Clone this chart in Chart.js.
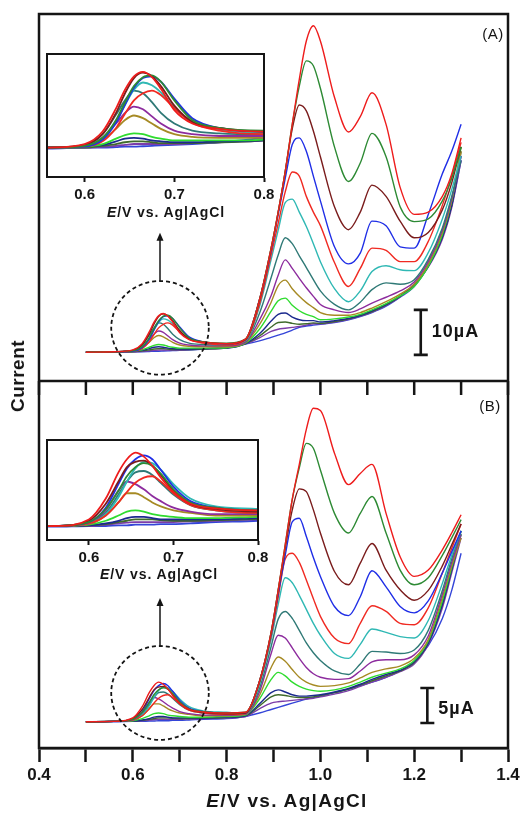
<!DOCTYPE html>
<html>
<head>
<meta charset="utf-8">
<script src="https://cdn.jsdelivr.net/npm/chart.js@4.4.1/dist/chart.umd.min.js"></script>
<style>
  html, body { margin: 0; padding: 0; background: #fff; }
  #figure { position: relative; width: 526px; height: 814px; overflow: hidden;
    font-family: "Liberation Sans", Arial, sans-serif; color: #151515; }
  #figure canvas { position: absolute; }
  .lbl { position: absolute; transform: translate(-50%, -50%); white-space: nowrap; }
  .axis-title { font-weight: bold; font-size: 19px; letter-spacing: 1.3px; }
  .inset-title { font-weight: bold; font-size: 14px; letter-spacing: 0.9px; }
  .panel-tag { font-size: 15px; letter-spacing: 0.5px; }
  #ylabel { font-weight: bold; font-size: 19px; letter-spacing: 0.5px;
    transform: translate(-50%, -50%) rotate(-90deg); }
</style>
</head>
<body>
<div id="figure">
  <canvas id="mainChart" width="526" height="814" style="left:0;top:0"></canvas>
  <canvas id="insetA" width="260" height="170" style="left:27px;top:44px"></canvas>
  <canvas id="insetB" width="250" height="150" style="left:27px;top:430px"></canvas>
  <div class="lbl panel-tag" style="left:493px;top:33px">(A)</div>
  <div class="lbl panel-tag" style="left:490px;top:405px">(B)</div>
  <div class="lbl" id="ylabel" style="left:18px;top:376px">Current</div>
  <div class="lbl axis-title" style="left:287px;top:801px"><i>E</i>/V vs. Ag|AgCl</div>
  <div class="lbl inset-title" style="left:166px;top:212px"><i>E</i>/V vs. Ag|AgCl</div>
  <div class="lbl inset-title" style="left:159px;top:574px"><i>E</i>/V vs. Ag|AgCl</div>
</div>

<script>
// potential grid (V) shared by every trace
const potential = [0.50, 0.56, 0.60, 0.62, 0.635, 0.645, 0.655, 0.665, 0.675, 0.685, 0.70, 0.72, 0.75, 0.80,
  0.84, 0.87, 0.895, 0.91, 0.925, 0.94, 0.955, 0.97, 0.985, 1.00, 1.03, 1.06, 1.085, 1.11, 1.14, 1.17, 1.20, 1.23, 1.26, 1.28, 1.30];

// panel A currents (uA), highest concentration first
const a01 = [6.4, 6.5, 6.9, 8.3, 10.9, 13.0, 14.5, 15.0, 14.4, 13.1, 10.7, 9.2, 8.6, 8.3, 9.3, 18, 29.5, 37.5, 46.5, 57, 67, 75.5, 78.9, 75.5, 63, 55.3, 58.7, 64, 57, 43, 37, 37.5, 41, 46, 54];
const a02 = [6.4, 6.5, 6.7, 7.6, 9.6, 11.6, 13.4, 14.4, 14.6, 13.9, 11.8, 9.6, 8.7, 8.4, 9.3, 18, 29.5, 37.5, 46.5, 57, 65.5, 71.1, 70, 65, 52, 44.3, 48.4, 55, 49.8, 38.7, 35.4, 36, 40, 45, 52];
const a03 = [6.4, 6.5, 6.8, 8.0, 10.4, 12.6, 14.3, 14.9, 14.5, 13.4, 11.2, 9.4, 8.7, 8.3, 9.2, 18, 29.5, 37.5, 46.5, 56, 61.3, 60, 55.5, 49.8, 38.7, 33.6, 37.5, 43.5, 41, 35.5, 31.8, 33, 38, 44, 52];
const a04 = [6.4, 6.5, 6.6, 7.4, 9.3, 11.3, 13.2, 14.3, 14.5, 13.9, 12.0, 9.8, 8.7, 8.3, 9.2, 18, 29, 37, 45, 52.5, 54, 51, 45.5, 40, 29.8, 26, 28.4, 35.5, 34.5, 29.8, 29.5, 37, 46, 51, 57];
const a05 = [6.4, 6.5, 6.6, 7.2, 8.7, 10.3, 11.8, 12.6, 12.9, 12.4, 10.9, 9.3, 8.4, 8.0, 9.0, 17, 28, 35, 42, 46.4, 45.5, 41, 37.5, 34.5, 26.3, 21, 25, 29.5, 29, 26.5, 26.5, 31, 39, 45.5, 53];
const a06 = [6.4, 6.5, 6.7, 7.6, 9.4, 11.3, 13.0, 13.8, 13.5, 12.7, 11.0, 9.4, 8.5, 8.2, 8.9, 16.5, 27, 33.5, 39.6, 40.4, 37.5, 34.3, 30.5, 26.5, 20.5, 17.6, 20.0, 24.3, 25.6, 24.7, 24.5, 28.5, 36, 42.5, 50];
const a07 = [6.4, 6.5, 6.8, 8.0, 10.2, 11.8, 12.9, 12.6, 11.6, 10.4, 9.2, 8.4, 8.1, 8.0, 8.8, 15, 23, 28, 31.8, 30.5, 27.8, 25.2, 22.5, 20.0, 17.0, 15.8, 17.5, 20.3, 21.8, 21.5, 22.5, 27, 34, 41, 49];
const a08 = [6.4, 6.5, 6.7, 7.6, 9.2, 10.4, 11.1, 10.8, 10.0, 9.2, 8.4, 8.0, 7.8, 7.8, 8.6, 13.5, 19, 23.5, 26.9, 25, 22.8, 20.7, 18.8, 17.0, 15.8, 15.2, 16.0, 17.3, 18.6, 20, 22, 26.5, 33.5, 40.5, 50];
const a09 = [6.4, 6.5, 6.7, 7.4, 8.6, 9.6, 10.1, 9.8, 9.2, 8.6, 8.0, 7.7, 7.6, 7.6, 8.5, 12.5, 17.5, 21.2, 22.4, 20.5, 18.8, 17.4, 16.3, 15.2, 14.6, 14.6, 15.2, 16.2, 17.6, 19.3, 21.5, 26, 33, 40, 51];
const a10 = [6.4, 6.5, 6.6, 6.9, 7.5, 7.9, 8.1, 8.0, 7.7, 7.5, 7.3, 7.3, 7.3, 7.4, 8.4, 11.5, 15.5, 17.8, 18.4, 16.8, 15.6, 14.8, 14.3, 13.6, 13.8, 14.2, 14.8, 15.8, 17.2, 18.9, 21, 25.5, 32.5, 40, 52];
const a11 = [6.4, 6.5, 6.6, 6.8, 7.2, 7.5, 7.6, 7.5, 7.3, 7.2, 7.1, 7.1, 7.2, 7.3, 8.3, 10.5, 13.3, 14.8, 15.1, 14.2, 13.6, 13.4, 13.4, 13.1, 13.4, 13.9, 14.6, 15.6, 17.0, 18.9, 21.2, 25.5, 32, 39, 50];
const a12 = [6.4, 6.5, 6.5, 6.7, 6.9, 7.1, 7.2, 7.2, 7.1, 7.0, 7.0, 7.0, 7.1, 7.3, 8.3, 10, 12, 13, 13.1, 12.8, 12.6, 12.7, 12.9, 12.8, 13.2, 13.8, 14.5, 15.4, 16.9, 18.8, 21.5, 25.5, 32, 39, 51];
const a13 = [6.4, 6.5, 6.5, 6.6, 6.7, 6.8, 6.9, 6.9, 6.9, 6.9, 6.9, 7.0, 7.1, 7.3, 8.2, 9.6, 11.0, 11.5, 11.7, 11.9, 12.1, 12.4, 12.7, 12.7, 13.1, 13.7, 14.4, 15.3, 16.8, 18.7, 21.5, 25.3, 31.5, 38.5, 49];
const a14 = [6.4, 6.4, 6.5, 6.5, 6.55, 6.6, 6.6, 6.65, 6.7, 6.75, 6.8, 6.9, 7.1, 7.6, 8.2, 8.9, 9.7, 10.2, 10.7, 11.3, 11.9, 12.2, 12.4, 12.6, 13.0, 13.6, 14.3, 15.2, 16.6, 18.6, 21.0, 25.5, 32, 39, 49];

// panel B currents (uA)
const b01 = [3.75, 3.8, 4.3, 5.9, 7.9, 8.9, 9.4, 9.1, 8.4, 7.5, 6.4, 5.5, 5.15, 5.0, 5.1, 9.5, 16.5, 22.5, 29, 35.5, 40.5, 45.5, 48.5, 48.2, 42.1, 37.6, 39.2, 40.5, 33.5, 27.3, 24.5, 25.4, 28.3, 30.7, 33.3];
const b02 = [3.75, 3.8, 4.1, 5.1, 6.5, 7.6, 8.3, 8.6, 8.4, 7.8, 6.6, 5.6, 5.2, 5.0, 5.1, 9.5, 16.5, 22.5, 29, 35.5, 40, 43.5, 42.8, 39.7, 33.5, 30.7, 33.5, 35.9, 30.7, 25.4, 23.3, 24.3, 27.5, 30, 32.6];
const b03 = [3.75, 3.8, 4.2, 5.5, 7.2, 8.3, 8.7, 8.8, 8.4, 7.7, 6.5, 5.5, 5.1, 4.9, 5.0, 9.5, 16.5, 22.5, 28.5, 34, 37, 36.6, 34, 30.7, 25.2, 23.3, 26.4, 29.2, 25.4, 22.6, 21.1, 22.5, 26, 29, 32];
const b04 = [3.75, 3.8, 4.1, 5.2, 7.0, 8.2, 8.9, 9.2, 8.9, 8.1, 6.8, 5.7, 5.2, 5.0, 5.0, 9.5, 16.3, 22, 27.5, 32.3, 32.8, 30.2, 27.2, 24.5, 20.2, 18.9, 21.6, 25.3, 23.0, 20.2, 19.3, 21, 25, 28, 31];
const b05 = [3.75, 3.8, 4.0, 4.6, 5.6, 6.4, 7.1, 7.5, 7.6, 7.2, 6.3, 5.4, 5.0, 4.8, 4.9, 9.3, 16, 21.5, 27, 27.8, 26.5, 24, 21.3, 18.8, 15.7, 14.9, 17.8, 20.3, 19.5, 17.8, 17.6, 20, 25, 28.5, 32];
const b06 = [3.75, 3.8, 4.0, 4.7, 6.0, 7.2, 8.2, 8.7, 8.6, 8.1, 7.0, 5.9, 5.3, 5.1, 4.9, 9, 15.5, 20.5, 24.3, 23.6, 21.8, 19.8, 17.8, 16.1, 13.5, 12.8, 14.8, 17.0, 16.5, 15.9, 15.7, 18.2, 23.5, 27.5, 31];
const b07 = [3.75, 3.8, 4.0, 4.8, 6.2, 7.2, 7.9, 8.0, 7.7, 7.1, 6.2, 5.4, 5.0, 4.8, 4.9, 8.5, 14.5, 18.4, 19.5, 18.5, 16.8, 15, 13.6, 12.5, 11, 10.5, 12, 13.8, 13.7, 13.5, 14, 16.8, 22.5, 27, 31];
const b08 = [3.75, 3.8, 4.0, 5.0, 6.5, 7.2, 7.0, 6.6, 6.1, 5.7, 5.2, 4.9, 4.7, 4.7, 4.8, 8, 13.5, 16.1, 15.7, 14.3, 12.8, 11.5, 10.6, 10.1, 9.8, 9.9, 11, 12.3, 12.6, 12.6, 13.3, 16, 22, 26.5, 30.5];
const b09 = [3.75, 3.8, 3.95, 4.6, 5.6, 6.3, 6.3, 6.0, 5.6, 5.3, 5.0, 4.8, 4.6, 4.6, 4.8, 7.5, 11.5, 13, 12.4, 11.2, 10.1, 9.4, 9, 8.8, 8.9, 9.3, 10, 10.8, 11.3, 11.7, 12.8, 15.5, 21.5, 26, 30];
const b10 = [3.75, 3.8, 3.9, 4.2, 4.6, 4.9, 5.0, 4.9, 4.7, 4.6, 4.5, 4.4, 4.4, 4.5, 4.7, 7, 9.8, 10.8, 10.3, 9.4, 8.8, 8.4, 8.2, 8.1, 8.3, 8.8, 9.4, 10.1, 10.7, 11.3, 12.5, 15.3, 21, 25.8, 30.5];
const b11 = [3.75, 3.8, 3.85, 4.0, 4.2, 4.4, 4.5, 4.5, 4.4, 4.3, 4.3, 4.3, 4.3, 4.4, 4.6, 6.3, 7.9, 8.3, 8.0, 7.6, 7.4, 7.4, 7.5, 7.6, 8.0, 8.5, 9.1, 9.8, 10.5, 11.1, 12.3, 15.0, 20.5, 25.5, 30.5];
const b12 = [3.75, 3.8, 3.85, 3.95, 4.1, 4.2, 4.3, 4.3, 4.3, 4.25, 4.2, 4.2, 4.25, 4.35, 4.6, 6.0, 7.3, 7.6, 7.5, 7.3, 7.2, 7.2, 7.3, 7.5, 7.9, 8.4, 9.0, 9.6, 10.3, 11.0, 12.2, 15.0, 20.5, 25.5, 31];
const b13 = [3.75, 3.8, 3.8, 3.9, 4.0, 4.05, 4.1, 4.1, 4.1, 4.1, 4.1, 4.15, 4.2, 4.3, 4.5, 5.6, 6.4, 6.6, 6.7, 6.8, 6.9, 7.0, 7.1, 7.3, 7.7, 8.2, 8.8, 9.4, 10.1, 10.9, 12.0, 14.8, 20, 25, 30];
const b14 = [3.75, 3.75, 3.8, 3.8, 3.85, 3.85, 3.9, 3.9, 3.9, 3.95, 3.95, 4.0, 4.1, 4.2, 4.5, 5.0, 5.5, 5.8, 6.1, 6.4, 6.7, 7.0, 7.2, 7.4, 7.9, 8.4, 8.9, 9.4, 10.1, 11.0, 12.3, 14.6, 18.5, 22.5, 27.8];

const traceColors = ["#ee1c1c", "#2d8a34", "#7a1c1c", "#1f2ee6", "#f02a22", "#2fb8b4", "#2f7976", "#8d2c9e",
  "#a68a24", "#2fdc2f", "#1c2a8e", "#3f6a2b", "#7c3ca8", "#3445d8"];

const mainTicks = [0.4, 0.5, 0.6, 0.7, 0.8, 0.9, 1.0, 1.1, 1.2, 1.3, 1.4];
const mainTickLabels = ["0.4", "", "0.6", "", "0.8", "", "1.0", "", "1.2", "", "1.4"];
const insetTicks = [0.6, 0.7, 0.8];
const insetTickLabels = ["0.6", "0.7", "0.8"];

const seriesA = [a01, a02, a03, a04, a05, a06, a07, a08, a09, a10, a11, a12, a13, a14];
const seriesB = [b01, b02, b03, b04, b05, b06, b07, b08, b09, b10, b11, b12, b13, b14];

// dashed circle around the small peak + arrow up to the inset (data units)
const zoomCircles = [
  { axis: "yA", e: 0.658, i: 11.8, de: 0.104, di: 10.4, arrowTo: 32.9 },
  { axis: "yB", e: 0.658, i: 7.86, de: 0.104, di: 6.7, arrowTo: 21.4 }
];
// current scale bars
const scaleBars = [
  { axis: "yA", e: 1.214, from: 5.8, size: 10, text: "10\u00b5A" },
  { axis: "yB", e: 1.228, from: 3.57, size: 5, text: "5\u00b5A", shift: 4 }
];

const ink = "#151515";
const family = "'Liberation Sans', Arial, sans-serif";

function toPoints(values) {
  return potential.map((e, i) => ({ x: e, y: values[i] }));
}

function traces(list, axisId, width) {
  return list.map((vals, k) => ({
    data: toPoints(vals),
    yAxisID: axisId,
    borderColor: traceColors[k],
    borderWidth: width,
    pointRadius: 0,
    fill: false,
    cubicInterpolationMode: "monotone"
  }));
}

const panelDecor = {
  id: "panelDecor",
  afterDraw(chart) {
    const { ctx, chartArea: a, scales } = chart;
    const x = scales.x;
    const mid = Math.min(scales.yA.bottom, scales.yB.bottom);
    ctx.save();
    ctx.strokeStyle = ink;
    ctx.fillStyle = ink;
    ctx.lineWidth = 2.5;
    ctx.strokeRect(a.left, a.top, a.right - a.left, a.bottom - a.top);

    /* divider between panels with its ticks */
    ctx.beginPath();
    ctx.moveTo(a.left, mid);
    ctx.lineTo(a.right, mid);
    x.ticks.forEach(t => {
      const px = x.getPixelForValue(t.value);
      ctx.moveTo(px, mid);
      ctx.lineTo(px, mid + 14);
    });
    ctx.stroke();

    /* dashed circles + arrows */
    ctx.lineWidth = 1.8;
    zoomCircles.forEach(c => {
      const sy = scales[c.axis];
      const cx = x.getPixelForValue(c.e);
      const cy = sy.getPixelForValue(c.i);
      const rx = x.getPixelForValue(c.e + c.de) - cx;
      const ry = cy - sy.getPixelForValue(c.i + c.di);
      ctx.setLineDash([4, 3]);
      ctx.beginPath();
      ctx.ellipse(cx, cy, rx, ry, 0, 0, Math.PI * 2);
      ctx.stroke();
      ctx.setLineDash([]);
      const tip = sy.getPixelForValue(c.arrowTo);
      ctx.lineWidth = 1.5;
      ctx.beginPath();
      ctx.moveTo(cx, cy - ry);
      ctx.lineTo(cx, tip + 5);
      ctx.stroke();
      ctx.beginPath();
      ctx.moveTo(cx, tip);
      ctx.lineTo(cx - 3.5, tip + 8);
      ctx.lineTo(cx + 3.5, tip + 8);
      ctx.closePath();
      ctx.fill();
      ctx.lineWidth = 1.8;
    });

    /* scale bars */
    scaleBars.forEach(b => {
      const sy = scales[b.axis];
      const bx = x.getPixelForValue(b.e);
      const y0 = sy.getPixelForValue(b.from);
      const y1 = sy.getPixelForValue(b.from + b.size);
      ctx.lineWidth = 2.6;
      ctx.beginPath();
      ctx.moveTo(bx, y0); ctx.lineTo(bx, y1);
      ctx.moveTo(bx - 7, y0); ctx.lineTo(bx + 7, y0);
      ctx.moveTo(bx - 7, y1); ctx.lineTo(bx + 7, y1);
      ctx.stroke();
      ctx.font = "bold 18px " + family;
      ctx.letterSpacing = "1px";
      ctx.textAlign = "left";
      ctx.textBaseline = "middle";
      ctx.fillText(b.text, bx + 11, (y0 + y1) / 2 + (b.shift || 0));
    });
    ctx.restore();
  }
};

new Chart(document.getElementById("mainChart"), {
  type: "line",
  data: { datasets: [...traces(seriesA, "yA", 1.4), ...traces(seriesB, "yB", 1.4)] },
  options: {
    responsive: false,
    animation: false,
    events: [],
    layout: { padding: { left: 39, right: 18, top: 14, bottom: 0 } },
    plugins: { legend: { display: false }, tooltip: { enabled: false } },
    scales: {
      x: {
        type: "linear", min: 0.4, max: 1.4,
        afterBuildTicks: s => { s.ticks = mainTicks.map(v => ({ value: v })); },
        afterFit: s => { s.height = 66; },
        grid: { drawOnChartArea: false, drawTicks: true, tickLength: 14, tickWidth: 2.5, tickColor: ink },
        border: { display: true, color: ink, width: 2.5 },
        ticks: {
          autoSkip: false, maxRotation: 0, padding: 3, color: ink,
          font: { family: family, size: 17, weight: "bold" },
          callback: (v, i) => mainTickLabels[i]
        }
      },
      // stacked panels: the box listed last ends up on top
      yB: { type: "linear", position: "left", stack: "panels", stackWeight: 1, min: 0, max: 52.4, display: false },
      yA: { type: "linear", position: "left", stack: "panels", stackWeight: 1, min: 0, max: 81.5, display: false }
    }
  },
  plugins: [panelDecor]
});

const insetFrame = {
  id: "insetFrame",
  beforeDatasetsDraw(chart) {
    const { ctx, chartArea: a } = chart;
    ctx.save();
    ctx.fillStyle = "#fff";
    ctx.fillRect(a.left, a.top, a.right - a.left, a.bottom - a.top);
    ctx.restore();
  },
  afterDraw(chart) {
    const { ctx, chartArea: a } = chart;
    ctx.save();
    ctx.strokeStyle = ink;
    ctx.lineWidth = 2;
    ctx.strokeRect(a.left, a.top, a.right - a.left, a.bottom - a.top);
    ctx.restore();
  }
};

function insetChart(id, series, xMin, yMin, yMax, pad, axisHeight) {
  return new Chart(document.getElementById(id), {
    type: "line",
    data: { datasets: traces(series, "y", 1.8) },
    options: {
      responsive: false,
      animation: false,
      events: [],
      layout: { padding: pad },
      plugins: { legend: { display: false }, tooltip: { enabled: false } },
      scales: {
        x: {
          type: "linear", min: xMin, max: 0.8,
          afterBuildTicks: s => { s.ticks = insetTicks.map(v => ({ value: v })); },
          afterFit: s => { s.height = axisHeight; },
          grid: { drawOnChartArea: false, drawTicks: true, tickLength: 5, tickWidth: 2, tickColor: ink },
          border: { display: true, color: ink, width: 2 },
          ticks: {
            autoSkip: false, maxRotation: 0, padding: 4, color: ink,
            font: { family: family, size: 15, weight: "bold" },
            callback: (v, i) => insetTickLabels[i]
          }
        },
        y: { type: "linear", min: yMin, max: yMax, display: false }
      }
    },
    plugins: [insetFrame]
  });
}

insetChart("insetA", seriesA, 0.558, 3.2, 17.0, { left: 20, top: 10, right: 23, bottom: 0 }, 37);
insetChart("insetB", seriesB, 0.5505, 2.73, 10.37, { left: 20, top: 10, right: 19, bottom: 0 }, 40);
</script>
</body>
</html>
